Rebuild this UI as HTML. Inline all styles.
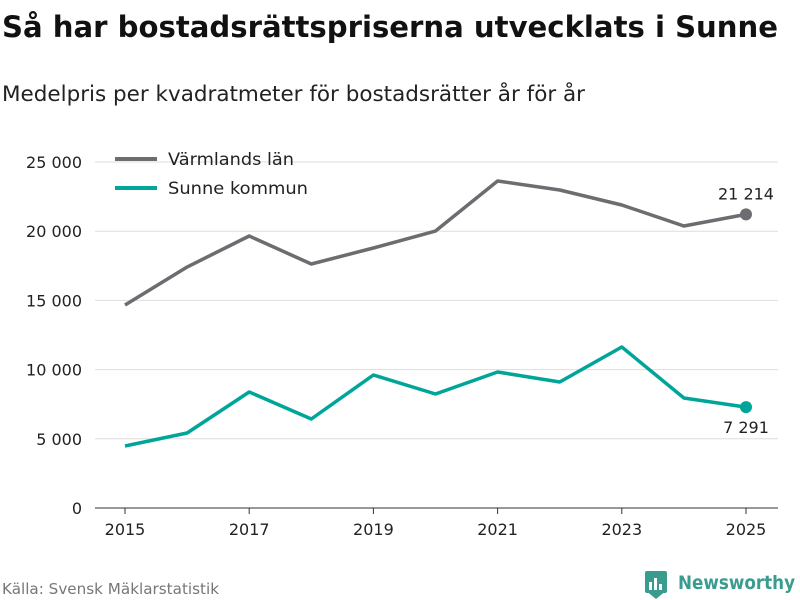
<!DOCTYPE html>
<html><head><meta charset="utf-8"><style>
body{margin:0;background:#fff;font-family:"DejaVu Sans","Liberation Sans",sans-serif;}
svg{display:block}
</style></head><body>
<svg id="chart" width="800" height="600">
<text x="2" y="37" font-size="29" font-weight="bold" fill="#111" textLength="776" lengthAdjust="spacingAndGlyphs">Så har bostadsrättspriserna utvecklats i Sunne</text>
<text x="2" y="101" font-size="21" fill="#222" textLength="583" lengthAdjust="spacingAndGlyphs">Medelpris per kvadratmeter för bostadsrätter år för år</text>
<g id="grid"></g><g id="xaxis"></g><g id="series"></g>
<g>
<line x1="115" y1="159" x2="157" y2="159" stroke="#6d6c71" stroke-width="4"/>
<text x="168" y="165" font-size="17" fill="#222" textLength="126" lengthAdjust="spacingAndGlyphs">Värmlands län</text>
<line x1="115" y1="188" x2="157" y2="188" stroke="#00a59a" stroke-width="4"/>
<text x="168" y="194" font-size="17" fill="#222" textLength="140" lengthAdjust="spacingAndGlyphs">Sunne kommun</text>
</g>
<text x="2" y="594" font-size="15" fill="#777" textLength="217" lengthAdjust="spacingAndGlyphs">Källa: Svensk Mäklarstatistik</text>
<g>
<rect x="645" y="571" width="22" height="22" rx="2" fill="#3a9c8e"/>
<path d="M645 590 L656 599 L667 590 Z" fill="#3a9c8e"/>
<rect x="649" y="582" width="3" height="8" fill="#fff"/><rect x="654" y="578" width="3" height="12" fill="#fff"/><rect x="659" y="584" width="3" height="6" fill="#fff"/>
<text x="678" y="589" font-size="19" font-weight="bold" fill="#3a9c8e" textLength="117" lengthAdjust="spacingAndGlyphs">Newsworthy</text>
</g>
</svg>
<script>
const years=[2015,2016,2017,2018,2019,2020,2021,2022,2023,2024,2025];
const varmland=[14668,17413,19653,17630,18786,20014,23627,22977,21893,20376,21214];
const sunne=[4480,5419,8382,6431,9610,8237,9827,9104,11633,7948,7291];
const yTicks=[0,5000,10000,15000,20000,25000];
const yTickLabels=["0","5 000","10 000","15 000","20 000","25 000"];
const xTicks=[2015,2017,2019,2021,2023,2025];
const NS="http://www.w3.org/2000/svg";
const x=v=>125+(v-2015)*(746-125)/10;
const y=v=>508-v*(508-162)/25000;
function mk(tag,attrs,parent){const e=document.createElementNS(NS,tag);for(const k in attrs)e.setAttribute(k,attrs[k]);parent.appendChild(e);return e;}
const grid=document.getElementById('grid');
yTicks.forEach((t,i)=>{
 const l=mk('line',{x1:95,x2:778,y1:y(t),y2:y(t),stroke:t===0?'#333':'#ddd','stroke-width':1},grid);
 
 
 const tx=mk('text',{x:82,y:y(t)+6,'text-anchor':'end','font-size':16,fill:'#222'},grid);
 tx.textContent=yTickLabels[i];
 
 
});
const xa=document.getElementById('xaxis');
xTicks.forEach(t=>{
 const l=mk('line',{x1:x(t),x2:x(t),y1:508,y2:514,stroke:'#333'},xa);
 
 
 const tx=mk('text',{x:x(t),y:535,'text-anchor':'middle','font-size':16,fill:'#222'},xa);
 tx.textContent=t;
 
 
});
const sg=document.getElementById('series');
function draw(vals,color,name,labelDy){
 const p=mk('polyline',{points:vals.map((v,i)=>x(years[i])+','+y(v)).join(' '),fill:'none',stroke:color,'stroke-width':3.5,'stroke-linejoin':'round'},sg);
 
 
 const n=vals.length-1;
 const c=mk('circle',{cx:x(years[n]),cy:y(vals[n]),r:6,fill:color},sg);
 
 
 const t=mk('text',{x:x(years[n]),y:y(vals[n])+labelDy,'text-anchor':'middle','font-size':16,fill:'#222'},sg);
 t.textContent=vals[n].toLocaleString('sv-SE').replace(/\s/g,' ');
 
 
}
draw(varmland,'#6d6c71','varmland',-15);
draw(sunne,'#00a59a','sunne',26);
</script>
</body></html>
